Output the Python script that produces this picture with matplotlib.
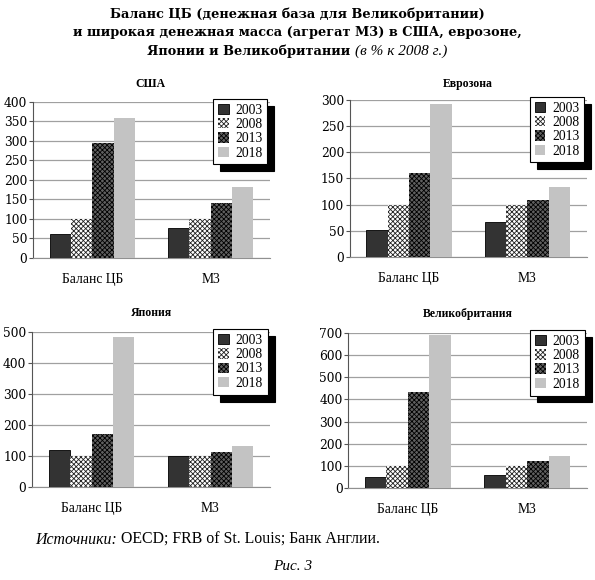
import matplotlib
matplotlib.use('Agg')
import matplotlib.pyplot as plt
import numpy as np

plt.rcParams['font.family'] = ['Liberation Serif', 'DejaVu Serif']
plt.rcParams['hatch.linewidth'] = 0.6

# data (в % к 2008 г.)
categories = ['Баланс ЦБ', 'М3']
years = ['2003', '2008', '2013', '2018']

usa = {'2003': [62, 77], '2008': [100, 100], '2013': [295, 140], '2018': [360, 183]}
euro = {'2003': [52, 66], '2008': [100, 100], '2013': [160, 108], '2018': [292, 134]}
japan = {'2003': [118, 100], '2008': [100, 100], '2013': [172, 113], '2018': [483, 131]}
uk = {'2003': [48, 57], '2008': [100, 100], '2013': [433, 120], '2018': [690, 145]}

panels = [
    ('США', usa, 400, 50, [0.0555, 0.5552, 0.398, 0.2690], (0.252, 0.855)),
    ('Еврозона', euro, 300, 50, [0.588, 0.5569, 0.398, 0.2707], (0.787, 0.855)),
    ('Япония', japan, 500, 100, [0.0538, 0.1603, 0.400, 0.2672], (0.255, 0.460)),
    ('Великобритания', uk, 700, 100, [0.585, 0.1586, 0.4017, 0.2672], (0.787, 0.459)),
]

styles = {
    '2003': dict(color='#333333', edgecolor='black', linewidth=0.6),
    '2008': dict(color='white', edgecolor='#222222', linewidth=0, hatch='xxxxxxx'),
    '2013': dict(color='#606060', edgecolor='black', linewidth=0, hatch='xxxxxxx'),
    '2018': dict(color='#c3c3c3', edgecolor='none', linewidth=0),
}

fig = plt.figure(figsize=(5.95, 5.80), dpi=100)

x = np.arange(len(categories))
w = 0.18
for title, data, ymax, step, rect, tpos in panels:
    ax = fig.add_axes(rect)
    for i, yr in enumerate(years):
        ax.bar(x + (i - 1.5) * w, data[yr], w, label=yr, zorder=3, **styles[yr])
    ax.set_xlim(-0.5, 1.5)
    ax.set_ylim(0, ymax)
    ax.set_yticks(np.arange(0, ymax + 1, step))
    ax.set_xticks(x)
    ax.set_xticklabels(categories, fontsize=9.8)
    ax.tick_params(axis='x', length=0, pad=11)
    ax.tick_params(axis='y', length=3, pad=1, color='#555555')
    for lab in ax.get_yticklabels():
        lab.set_fontfamily('DejaVu Serif')
        lab.set_fontsize(8.8)
    ax.yaxis.grid(True, color='#a0a0a0', linewidth=0.9, zorder=0)
    ax.set_axisbelow(True)
    for s in ['top', 'right']:
        ax.spines[s].set_visible(False)
    ax.spines['left'].set_color('#555555')
    ax.spines['bottom'].set_color('#909090')
    fig.text(tpos[0], tpos[1], title, ha='center', va='center',
             fontsize=8.5, fontweight='bold')
    leg = ax.legend(loc='upper right', bbox_to_anchor=(0.99, 1.02),
                    borderaxespad=0, fancybox=False, fontsize=9.8,
                    handlelength=0.8, handleheight=0.8, handletextpad=0.5,
                    labelspacing=0.1, borderpad=0.35,
                    shadow={'ox': 5, 'oy': -5, 'color': 'black', 'alpha': 1})
    leg.get_frame().set_edgecolor('black')
    leg.get_frame().set_linewidth(0.8)
    leg.set_zorder(5)

# main title
fig.text(0.5, 0.976, 'Баланс ЦБ (денежная база для Великобритании)',
         ha='center', va='center', fontsize=9.3, fontweight='bold',
         family='DejaVu Serif')
fig.text(0.5, 0.944, 'и широкая денежная масса (агрегат М3) в США, еврозоне,',
         ha='center', va='center', fontsize=9.3, fontweight='bold',
         family='DejaVu Serif')
fig.canvas.draw()
r = fig.canvas.get_renderer()
t1 = fig.text(0, 0.912, 'Японии и Великобритании ', ha='left', va='center',
              fontsize=9.3, fontweight='bold', family='DejaVu Serif')
t2 = fig.text(0, 0.912, '(в % к 2008 г.)', ha='left', va='center',
              fontsize=11, fontstyle='italic')
w1 = t1.get_window_extent(r).width
w2 = t2.get_window_extent(r).width
W = fig.bbox.width
x0 = (W - w1 - w2) / 2
t1.set_x(x0 / W)
t2.set_x((x0 + w1) / W)

# footer
s1 = fig.text(35 / 595, 1 - 540 / 580, 'Источники:', ha='left', va='center',
              fontsize=11.4, fontstyle='italic')
ws = s1.get_window_extent(r).width
fig.text((35 + ws) / 595, 1 - 540 / 580, ' OECD; FRB of St. Louis; Банк Англии.',
         ha='left', va='center', fontsize=11.4)
fig.text(293 / 595, 1 - 566 / 580, 'Рис. 3', ha='center', va='center',
         fontsize=11, fontstyle='italic')

fig.savefig('out.png', dpi=100)
